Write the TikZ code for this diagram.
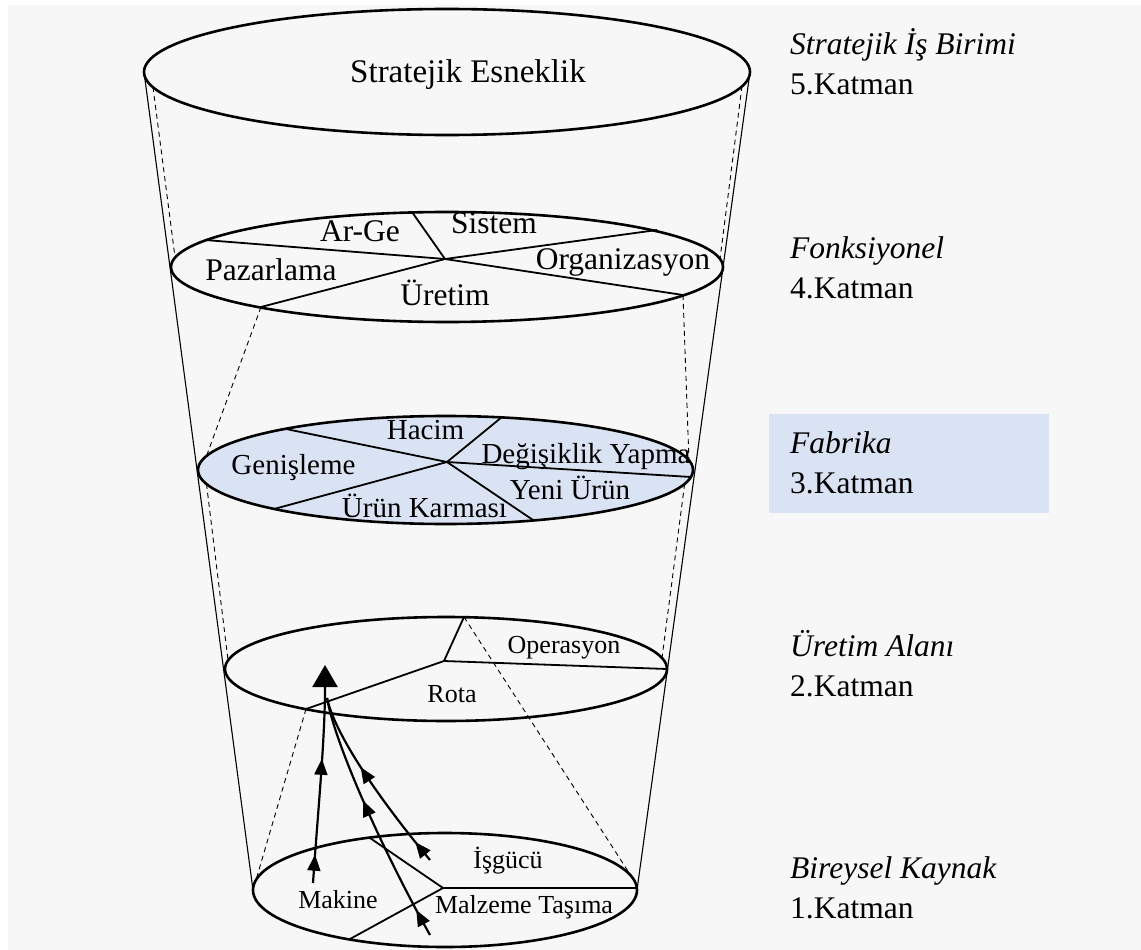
\documentclass[tikz,border=0pt]{standalone}
\usepackage{fontspec}
\setmainfont{Liberation Serif}
\usetikzlibrary{arrows.meta,decorations.markings}
\definecolor{bggray}{HTML}{F7F7F7}
\definecolor{layerblue}{HTML}{DAE3F3}

\begin{document}
\begin{tikzpicture}[x=1pt,y=-1pt,
  disc/.style={line width=2.6pt},
  spoke/.style={line width=1.8pt},
  rim/.style={line width=1.1pt},
  guide/.style={line width=0.9pt, dash pattern=on 5pt off 4pt},
  flow/.style={line width=2.2pt},
  smalltip/.tip={Triangle[length=16pt,width=13pt]},
  flowmarks/.style 2 args={postaction={decorate,decoration={markings,
      mark=at position #1 with {\arrow{smalltip}},
      mark=at position #2 with {\arrow{smalltip}}}}},
  lbl/.style={inner sep=0pt, anchor=base},
  fA/.style={lbl, font=\fontsize{33}{40}\selectfont},
  fB/.style={lbl, font=\fontsize{31.5}{38}\selectfont},
  fC/.style={lbl, font=\fontsize{29}{35}\selectfont},
  fD/.style={lbl, font=\fontsize{26}{31}\selectfont},
  side/.style={inner sep=0pt, anchor=base west, font=\fontsize{31.5}{38}\selectfont},
  sideit/.style={side, font=\fontsize{31.5}{38}\selectfont\itshape}
]
% canvas
\useasboundingbox (0,0) rectangle (1141,950);
\fill[bggray] (8,5) rectangle (1141,950);
\fill[layerblue] (769,414) rectangle (1049,513);

% ---- reference points ----
% level 5
\coordinate (c5) at (447,72);
\coordinate (e5L) at (144,72);  \coordinate (e5R) at (750,72);
\coordinate (d5L) at (153,87);  \coordinate (d5R) at (742,86);
% level 4
\coordinate (c4) at (447,267);
\coordinate (s4) at (445,259);
\coordinate (a4) at (205,240);  \coordinate (b4) at (412,212);
\coordinate (g4) at (657,230);  \coordinate (h4) at (683,295);
\coordinate (k4) at (261,307);
\coordinate (d4L) at (175,257); \coordinate (d4R) at (720,259);
% level 3
\coordinate (c3) at (445.5,470);
\coordinate (s3) at (447,462);
\coordinate (a3) at (286,429);  \coordinate (b3) at (502,417);
\coordinate (g3) at (691,477);  \coordinate (h3) at (533,520);
\coordinate (k3) at (274,509);
\coordinate (u3L) at (206.5,456); \coordinate (u3R) at (689,461);
\coordinate (l3L) at (206.5,484); \coordinate (l3R) at (684.6,484);
% level 2
\coordinate (c2) at (446,669);
\coordinate (s2) at (444,661);
\coordinate (a2) at (464,617);  \coordinate (b2) at (667,669);
\coordinate (k2) at (306,709);
\coordinate (u2L) at (228,660); \coordinate (u2R) at (662,658);
% level 1
\coordinate (c1) at (445,890);
\coordinate (s1) at (443,888);
\coordinate (a1) at (637,888);  \coordinate (b1) at (370,838);
\coordinate (k1) at (350,939);
\coordinate (u1L) at (256,880); \coordinate (u1R) at (630.5,875);
\coordinate (e1L) at (253,890); \coordinate (e1R) at (637,890);

% ---- outer funnel ----
\draw[rim] (e5L) -- (e1L);
\draw[rim] (e5R) -- (e1R);

% ---- dashed links between levels ----
\draw[guide] (d5L) -- (d4L);
\draw[guide] (d5R) -- (d4R);
\draw[guide] (k4) -- (u3L);
\draw[guide] (h4) -- (u3R);
\draw[guide] (l3L) -- (u2L);
\draw[guide] (l3R) -- (u2R);
\draw[guide] (k2) -- (u1L);
\draw[guide] (a2) -- (u1R);

% ---- discs ----
\draw[disc] (c5) ellipse [x radius=303pt, y radius=63pt];
\draw[disc] (c4) ellipse [x radius=276pt, y radius=55pt];
\draw[disc, fill=layerblue] (c3) ellipse [x radius=247.5pt, y radius=54pt];
\draw[disc] (c2) ellipse [x radius=221pt, y radius=52pt];
\draw[disc] (c1) ellipse [x radius=192pt, y radius=57pt];

% ---- sector divisions ----
\foreach \p in {a4,b4,g4,h4,k4} \draw[spoke] (s4) -- (\p);
\foreach \p in {a3,b3,g3,h3,k3} \draw[spoke] (s3) -- (\p);
\foreach \p in {a2,b2,k2} \draw[spoke] (s2) -- (\p);
\foreach \p in {a1,b1,k1} \draw[spoke] (s1) -- (\p);

% ---- disc labels ----
\node[fA] (t5) at (468,82) {Stratejik Esneklik};

\node[fB] (argeT) at (360,241) {Ar-Ge};
\node[fB] (sisT) at (494,233) {Sistem};
\node[fB] (orgT) at (623,269) {Organizasyon};
\node[fB] (pazT) at (271,280) {Pazarlama};
\node[fB] (uretT) at (445,305) {Üretim};

\node[fC] (hacT) at (425.5,439) {Hacim};
\node[fC] (genT) at (293.5,474) {Genişleme};
\node[fC] (degT) at (586,463) {Değişiklik Yapma};
\node[fC] (yeniT) at (570,499) {Yeni Ürün};
\node[fC] (karT) at (424.5,517) {Ürün Karması};

\node[fD] (opT) at (564,653) {Operasyon};
\node[fD] (rotaT) at (452,702) {Rota};

\node[fD] (isgT) at (508,868) {İşgücü};
\node[fD] (makT) at (338,908) {Makine};
\node[fD] (malT) at (524,913) {Malzeme Taşıma};

% ---- flows into the route ----
\coordinate (m0) at (313,883);
\coordinate (w0) at (430,935);
\coordinate (q0) at (430,860);
\coordinate (join) at (327,698);
\coordinate (peak) at (325,665);
\draw[flow, flowmarks={0.13}{0.57}, -{Triangle[length=22pt,width=25pt]}]
  (m0) .. controls (318,810) and (325,740) .. (peak);
\draw[flow, flowmarks={0.11}{0.58}]
  (w0) .. controls (385,855) and (335,745) .. (join);
\draw[flow, flowmarks={0.12}{0.6}]
  (q0) .. controls (380,800) and (335,735) .. (join);

% ---- level names ----
\node[sideit] (n5a) at (790,55) {Stratejik İş Birimi};
\node[side] (n5b) at (790,95) {5.Katman};
\node[sideit] (n4a) at (790,258) {Fonksiyonel};
\node[side] (n4b) at (790,298) {4.Katman};
\node[sideit] (n3a) at (790,453) {Fabrika};
\node[side] (n3b) at (790,493) {3.Katman};
\node[sideit] (n2a) at (790,656) {Üretim Alanı};
\node[side] (n2b) at (790,696) {2.Katman};
\node[sideit] (n1a) at (790,878) {Bireysel Kaynak};
\node[side] (n1b) at (790,918) {1.Katman};
\end{tikzpicture}
\end{document}
